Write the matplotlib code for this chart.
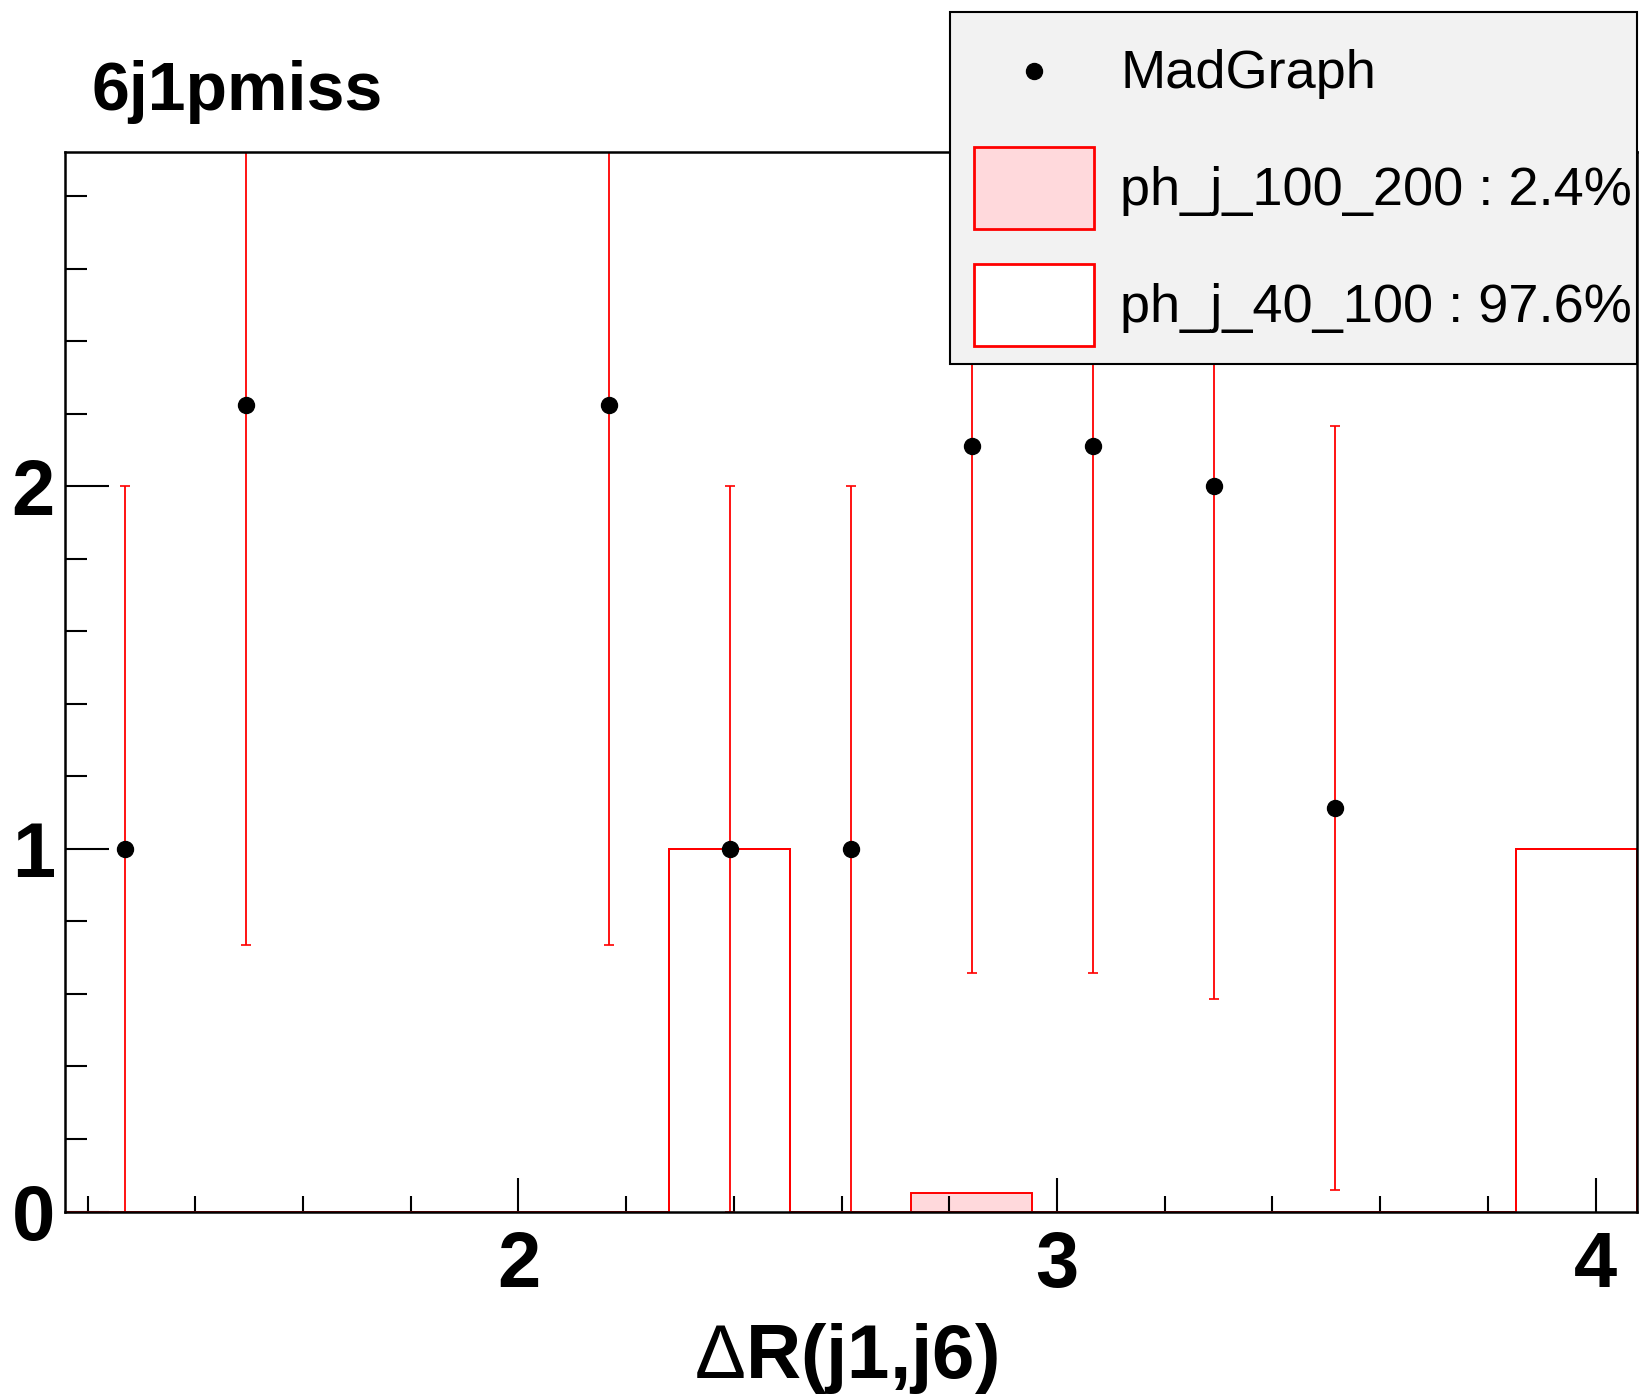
import numpy as np
import matplotlib
matplotlib.use('Agg')
import matplotlib.pyplot as plt
from matplotlib.lines import Line2D
from matplotlib.patches import Patch, Rectangle
from matplotlib.legend_handler import HandlerLine2D
from matplotlib.ticker import MultipleLocator

plt.rcParams['font.family'] = ['Liberation Sans', 'DejaVu Sans']
plt.rcParams['mathtext.fontset'] = 'custom'
plt.rcParams['mathtext.rm'] = 'Liberation Sans'

# binning (13 bins)
x_lo = 1.157
x_hi = 4.077
n_bins = 13
edges = np.linspace(x_lo, x_hi, n_bins + 1)
centers = 0.5 * (edges[:-1] + edges[1:])

# MadGraph points (bin index, value, error)
mg_bins = [0, 1, 4, 5, 6, 7, 8, 9, 10]
mg_vals = [1.0, 2.225, 2.225, 1.0, 1.0, 2.112, 2.112, 2.0, 1.112]
mg_errs = [1.0, 1.49, 1.49, 1.0, 1.0, 1.453, 1.453, 1.414, 1.054]

# stacked samples
h_40_100 = [0, 0, 0, 0, 0, 1, 0, 0, 0, 0, 0, 0, 1]
h_100_200 = [0, 0, 0, 0, 0, 0, 0, 0.05, 0, 0, 0, 0, 0]
labels = ['MadGraph', 'ph_j_100_200 : 2.4%', 'ph_j_40_100 : 97.6%']

pink = '#ffd9dc'


class CenteredMarker(HandlerLine2D):
    # put the legend dot in the middle of the (tall) handle box
    def create_artists(self, legend, orig_handle, xdescent, ydescent, width, height,
                       fontsize, trans):
        return super().create_artists(legend, orig_handle, xdescent, ydescent, width,
                                      height - ydescent, fontsize, trans)


W, H = 1639, 1396
fig = plt.figure(figsize=(W / 100, H / 100), dpi=100)
ax = fig.add_axes([64.5 / W, 184.5 / H, (1637 - 64.5) / W, (1211.5 - 152) / H])

h40 = np.array(h_40_100, dtype=float)
h100 = np.array(h_100_200, dtype=float)
ax.stairs(h40, edges, baseline=0, fill=True, facecolor='white', edgecolor='none', zorder=1)
ax.stairs(h40, edges, baseline=0, color='red', lw=1.4, zorder=2)
ax.stairs(h40 + h100, edges, baseline=h40, fill=True, facecolor=pink, edgecolor='none', zorder=1)
ax.stairs(h40 + h100, edges, baseline=h40, color='red', lw=1.4, zorder=2)

ax.errorbar(centers[mg_bins], mg_vals, yerr=mg_errs, fmt='o', color='black',
            markersize=11.5, ecolor='red', elinewidth=1.3, capsize=3.5,
            capthick=1.2, zorder=4)

ax.set_xlim(x_lo, x_hi)
ax.set_ylim(0, 2.922)

ax.xaxis.set_major_locator(MultipleLocator(1))
ax.xaxis.set_minor_locator(MultipleLocator(0.2))
ax.yaxis.set_major_locator(MultipleLocator(1))
ax.yaxis.set_minor_locator(MultipleLocator(0.2))
ax.tick_params(axis='x', which='major', direction='in', length=24.5, width=1.5, pad=13,
               labelsize=56)
ax.tick_params(axis='x', which='minor', direction='in', length=11.5, width=1.5)
ax.tick_params(axis='y', which='major', direction='in', length=32, width=1.5, pad=7,
               labelsize=56)
ax.tick_params(axis='y', which='minor', direction='in', length=16, width=1.5)
for lab in ax.get_xticklabels() + ax.get_yticklabels():
    lab.set_fontweight('bold')
for sp in ax.spines.values():
    sp.set_linewidth(1.8)
    sp.set_zorder(5)

ax.set_xlabel(r'$\Delta$R(j1,j6)', fontsize=55, fontweight='bold')
ax.xaxis.set_label_coords(0.497, -0.157)
ax.xaxis.label.set_va('baseline')

fig.text(92 / W, 1 - 110 / H, '6j1pmiss', fontsize=49, fontweight='bold', va='baseline')

# legend box (frame drawn separately so it can hug the text on the right)
fig.patches.append(Rectangle((950 / W, 1 - 364 / H), (1637 - 950) / W, (364 - 12) / H,
                             transform=fig.transFigure, facecolor='#f2f2f2',
                             edgecolor='black', linewidth=1.5, zorder=4.5))
handles = [
    Line2D([], [], marker='o', color='black', linestyle='none', markersize=11.5),
    Patch(facecolor=pink, edgecolor='red', linewidth=2),
    Patch(facecolor='white', edgecolor='red', linewidth=2),
]
fs_px = 39 / 72 * 100
bp = 0.3
leg = fig.legend(handles, labels, loc='upper left',
                 bbox_to_anchor=((974 - bp * fs_px) / W, 1 - 13.5 / H),
                 fontsize=39, handlelength=2.22, handleheight=1.952, labelspacing=0.65,
                 handletextpad=0.48, borderpad=bp, borderaxespad=0, frameon=False,
                 handler_map={handles[0]: CenteredMarker()})
leg.set_zorder(5)

fig.savefig('out.png', dpi=100)
